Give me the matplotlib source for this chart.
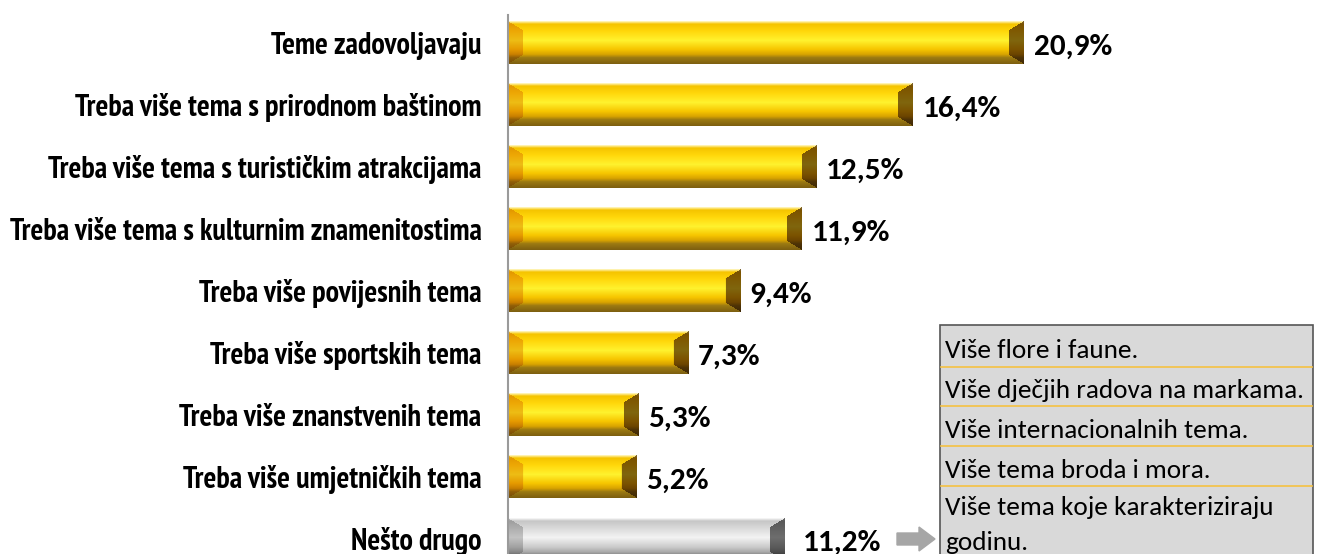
import numpy as np
import matplotlib
matplotlib.use("Agg")
import matplotlib.pyplot as plt
from matplotlib.patches import Rectangle, FancyArrow
from matplotlib.colors import to_rgb

# ---- data ----
categories = [
    "Teme zadovoljavaju",
    "Treba više tema s prirodnom baštinom",
    "Treba više tema s turističkim atrakcijama",
    "Treba više tema s kulturnim znamenitostima",
    "Treba više povijesnih tema",
    "Treba više sportskih tema",
    "Treba više znanstvenih tema",
    "Treba više umjetničkih tema",
    "Nešto drugo",
]
values = [20.9, 16.4, 12.5, 11.9, 9.4, 7.3, 5.3, 5.2, 11.2]
value_labels = ["20,9%", "16,4%", "12,5%", "11,9%", "9,4%", "7,3%", "5,3%", "5,2%", "11,2%"]
bar_kind = ["gold"] * 8 + ["silver"]
other_answers = [
    "Više flore i faune.",
    "Više dječjih radova na markama.",
    "Više internacionalnih tema.",
    "Više tema broda i mora.",
    "Više tema koje karakteriziraju\ngodinu.",
]

W, H = 1320, 554
fig = plt.figure(figsize=(W / 100, H / 100), dpi=100)
fig.patch.set_facecolor("white")

def fx(x):
    return x / W

def fy(y):
    return 1 - y / H

label_font = ["PT Sans Narrow", "Carlito", "DejaVu Sans"]
value_font = ["Carlito", "DejaVu Sans"]

# layout: axis top at y=15 px, category 0 centre at 43 px, step 62 px
step = 62.0
top_px = 15.0
ymin_cat = -(43 - top_px) / step
ymax_cat = 8.6
bottom_px = 43 + ymax_cat * step
x0_px = 508.0
xmax = 33.0
ppu = 516.0 / 20.9
ax = fig.add_axes([fx(x0_px), fy(bottom_px), xmax * ppu / W, (bottom_px - top_px) / H])
ax.set_xlim(0, xmax)
ax.set_ylim(ymax_cat, ymin_cat)
ax.set_facecolor("none")
for s in ["top", "right", "bottom"]:
    ax.spines[s].set_visible(False)
ax.spines["left"].set_color("#9a9a9a")
ax.spines["left"].set_linewidth(1.5)
ax.tick_params(axis="x", bottom=False, labelbottom=False)
ax.tick_params(axis="y", left=False, pad=15.5)
ypos = np.arange(len(categories))
ax.set_yticks(ypos)
ax.set_yticklabels(categories, fontsize=21.7, fontweight="bold", family=label_font)

bar_h = 43 / step
bars = ax.barh(ypos, values, height=bar_h, color="none", edgecolor="none")

profiles = {
    "gold": [(0.0, "#FFF3B0"), (0.06, "#F5C400"), (0.22, "#FFD60A"), (0.45, "#FFF22E"),
             (0.66, "#F7C600"), (0.78, "#D9A400"), (0.86, "#9C7A12"), (1.0, "#7E6010")],
    "silver": [(0.0, "#F4F4F4"), (0.06, "#C6C6C6"), (0.45, "#F3F3F3"), (0.68, "#CACACA"),
               (0.8, "#A8A8A8"), (0.88, "#7E7E7E"), (1.0, "#6A6A6A")],
}
left_tint = {"gold": np.array([0.93, 0.78, 0.45]), "silver": np.array([0.8, 0.8, 0.8])}
right_tint = {"gold": np.array([0.5, 0.42, 0.3]), "silver": np.array([0.45, 0.45, 0.45])}

def bevel_image(kind, wpx, hpx, bx=15.0, by=9.0):
    stops = profiles[kind]
    t = np.linspace(0, 1, hpx)
    pos = [s[0] for s in stops]
    cols = np.array([to_rgb(s[1]) for s in stops])
    prof = np.stack([np.interp(t, pos, cols[:, c]) for c in range(3)], axis=1)
    img = np.repeat(prof[:, None, :], wpx, axis=1)
    ii, jj = np.meshgrid(np.arange(hpx), np.arange(wpx), indexing="ij")
    dl = jj / bx
    dr = (wpx - 1 - jj) / bx
    dv = np.minimum(ii, hpx - 1 - ii) / by
    left = (dl < 1) & (dl <= dv) & (dl <= dr)
    right = (dr < 1) & (dr <= dv) & (dr < dl)
    img[left] = img[left] * left_tint[kind]
    img[right] = img[right] * right_tint[kind]
    return np.clip(img, 0, 1)

fig.canvas.draw()
for b, kind in zip(bars, bar_kind):
    x, y, w, h = b.get_x(), b.get_y(), b.get_width(), b.get_height()
    p0 = ax.transData.transform((x, y))
    p1 = ax.transData.transform((x + w, y + h))
    wpx = max(int(round(abs(p1[0] - p0[0]))), 2)
    hpx = max(int(round(abs(p1[1] - p0[1]))), 2)
    img = bevel_image(kind, wpx, hpx)
    ax.imshow(img, extent=(x, x + w, y + h, y), aspect="auto", interpolation="bilinear", zorder=2)
ax.set_xlim(0, xmax)
ax.set_ylim(ymax_cat, ymin_cat)

for yi, v, lab, kind in zip(ypos, values, value_labels, bar_kind):
    dx = 13 if kind == "silver" else 7
    ax.annotate(lab, xy=(v, yi), xytext=(dx, -3), textcoords="offset points",
                va="center", ha="left", fontsize=22.5, fontweight="bold", family=value_font, color="black")

# ---- "Nešto drugo" detail box ----
box_left, box_right, box_top = 940, 1313, 325
row_edges = [325, 367, 406, 446, 486, 600]
baselines = [358, 398, 438, 478, 515]
line_gap = 35
fig.patches.append(Rectangle((fx(box_left), fy(600)), fx(box_right - box_left), (600 - box_top) / H,
                             transform=fig.transFigure, facecolor="#D9D9D9", edgecolor="#555555",
                             linewidth=1.2, zorder=1))
for ye in row_edges[1:-1]:
    fig.add_artist(plt.Line2D([fx(box_left + 1), fx(box_right - 1)], [fy(ye), fy(ye)],
                              transform=fig.transFigure, color="#F5C242", linewidth=1.2, zorder=2))
for k, txt in enumerate(other_answers):
    for j, line in enumerate(txt.split("\n")):
        fig.text(fx(box_left + 5), fy(baselines[k] + j * line_gap), line, ha="left", va="baseline",
                 fontsize=19.6, family=value_font, color="black", zorder=3)

# arrow
fig.patches.append(FancyArrow(fx(897), fy(539), fx(38), 0, width=12 / H, head_width=24 / H,
                              head_length=fx(16), length_includes_head=True,
                              transform=fig.transFigure, color="#A6A6A6", zorder=3))

fig.savefig("out.png", dpi=100, facecolor="white")
